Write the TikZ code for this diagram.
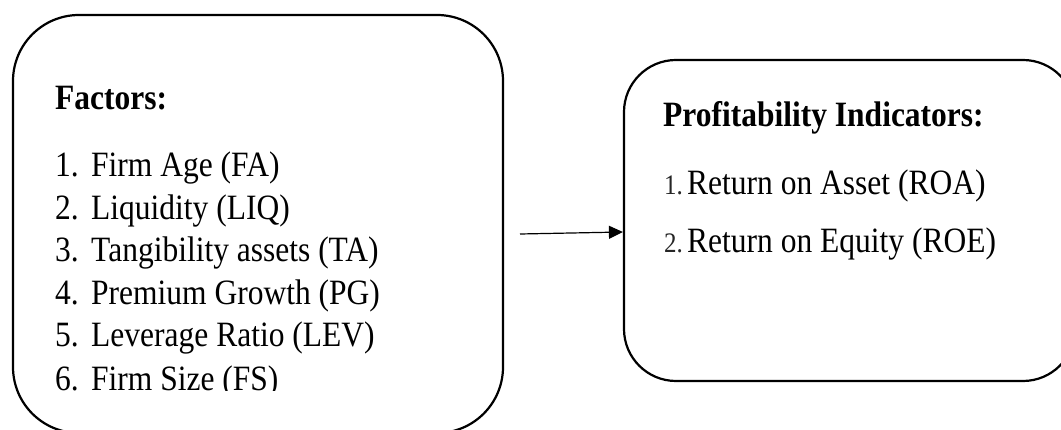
\documentclass[tikz,border=0pt]{standalone}
\usepackage{fontspec}
\usepackage{graphicx}
\setmainfont{Liberation Serif}
\usetikzlibrary{arrows.meta}

% Slightly tall lettering
\newcommand{\talltext}[1]{\scalebox{1}[1.13]{#1}}

\tikzset{
  panel/.style={draw, line width=2.2pt, inner sep=0pt},
  label/.style={anchor=base west, inner sep=0pt, font=\fontsize{31.5}{38}\selectfont},
  heading/.style={label, font=\fontsize{31.5}{38}\selectfont\bfseries},
  num/.style={anchor=base west, inner sep=0pt, font=\fontsize{25}{30}\selectfont, text=black!85},
  link/.style={line width=1.2pt, -{Triangle[length=14pt,width=13pt]}}
}

\begin{document}
\begin{tikzpicture}[x=1pt, y=-1pt]
  \useasboundingbox (0,0) rectangle (1061,430);
  \clip (0,0) rectangle (1061,430);

  % Panels
  \node[panel, rounded corners=66pt, minimum width=490pt, minimum height=418pt]
    (factors) at (258,224) {};
  \node[panel, rounded corners=52pt, minimum width=451pt, minimum height=321pt]
    (profit) at (849.5,220.5) {};

  % Left panel text
  \node[heading] (fhead) at (55,110) {\talltext{Factors:}};
  \foreach \n/\t/\y in {1/Firm Age (FA)/177,
                        2/Liquidity (LIQ)/219.5,
                        3/Tangibility assets (TA)/262,
                        4/Premium Growth (PG)/304.5,
                        5/Leverage Ratio (LEV)/347} {
    \node[label] (fn\n) at (55,\y) {\talltext{\n.}};
    \node[label] (ft\n) at (91,\y) {\talltext{\t}};
  }
  \begin{scope}
    \clip (0,0) rectangle (1061,391);
    \node[label] (fn6) at (55,391) {\talltext{6.}};
    \node[label] (ft6) at (91,391) {\talltext{Firm Size (FS)}};
  \end{scope}

  % Right panel text
  \node[heading] (phead) at (663,127) {\talltext{Profitability Indicators:}};
  \node[num]   (pn1) at (664,195) {\talltext{1.}};
  \node[label] (pt1) at (687,195) {\talltext{Return on Asset (ROA)}};
  \node[num]   (pn2) at (664,253) {\talltext{2.}};
  \node[label] (pt2) at (687,253) {\talltext{Return on Equity (ROE)}};

  % Connector
  \coordinate (src) at (520,234);
  \draw[link] (src) -- ([yshift=-11.5pt]profit.west);
\end{tikzpicture}
\end{document}
